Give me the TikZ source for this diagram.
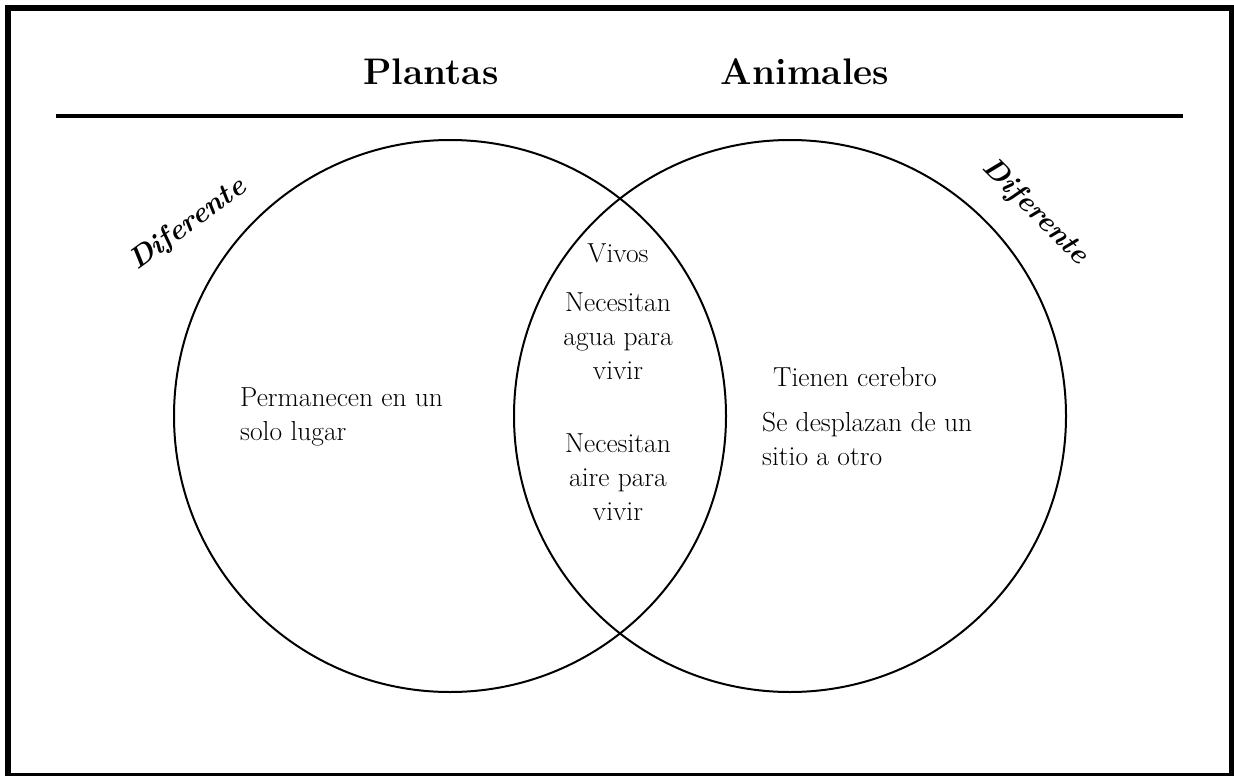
\documentclass[tikz,border=0pt]{standalone}
\usepackage{fontspec}
\begin{document}
\begin{tikzpicture}[x=1pt,y=-1pt,
  body/.style={font=\fontsize{27.5}{34}\selectfont, inner sep=0pt},
  title/.style={font=\fontsize{37}{44}\selectfont\bfseries, inner sep=0pt},
  diff/.style={font=\fontsize{29}{34}\selectfont\bfseries\itshape, inner sep=0pt},
  venn/.style={draw, line width=2pt}]
\useasboundingbox (0,0) rectangle (1234,776);
\draw[line width=6pt] (8,8) rectangle (1232,776);
\coordinate (ruleL) at (56,116);
\coordinate (ruleR) at (1183,116);
\draw[line width=4pt] (ruleL) -- (ruleR);
\node[title] (plantas) at (431,72) {Plantas};
\node[title] (animales) at (805,72) {Animales};
\node[venn, circle, minimum size=552pt, inner sep=0pt] (left) at (450,416) {};
\node[venn, circle, minimum size=552pt, inner sep=0pt] (right) at (790,416) {};
\node[diff, rotate=36] (difL) at (188,225) {Diferente};
\node[diff, rotate=-45] (difR) at (1035,212) {Diferente};
\node[body, align=left, anchor=west] (perm) at (240,417) {Permanecen en un\\solo lugar};
\node[body] (vivos) at (618,253) {Vivos};
\node[body, align=center] (agua) at (618,336) {Necesitan\\agua para\\vivir};
\node[body, align=center] (aire) at (618,477) {Necesitan\\aire para\\vivir};
\node[body, anchor=west] (cerebro) at (773,377) {Tienen cerebro};
\node[body, align=left, anchor=west] (despl) at (762,439) {Se desplazan de un\\sitio a otro};
\end{tikzpicture}
\end{document}
